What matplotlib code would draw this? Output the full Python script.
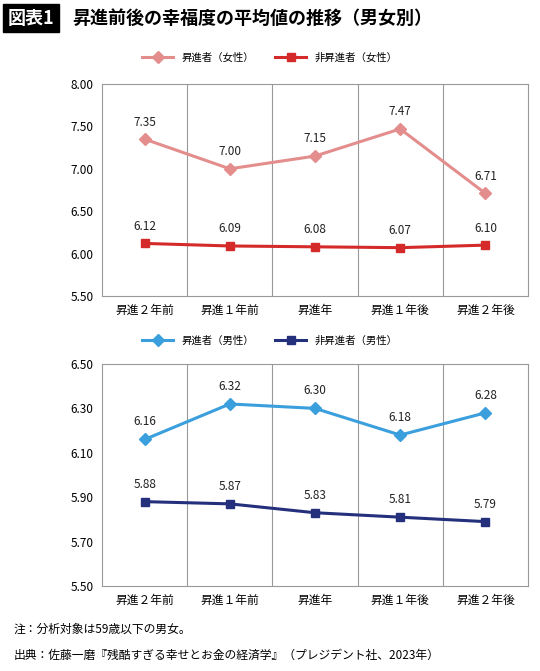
import matplotlib
matplotlib.use("Agg")
import matplotlib.pyplot as plt

plt.rcParams['font.family'] = ['Noto Sans CJK JP', 'DejaVu Sans']

categories = ["昇進２年前", "昇進１年前", "昇進年", "昇進１年後", "昇進２年後"]
f_prom = [7.35, 7.00, 7.15, 7.47, 6.71]
f_non = [6.12, 6.09, 6.08, 6.07, 6.10]
m_prom = [6.16, 6.32, 6.30, 6.18, 6.28]
m_non = [5.88, 5.87, 5.83, 5.81, 5.79]
top_ticks = [5.50, 6.00, 6.50, 7.00, 7.50, 8.00]
bot_ticks = [5.50, 5.70, 5.90, 6.10, 6.30, 6.50]

W, H = 540, 671
fig = plt.figure(figsize=(W/100, H/100), dpi=100)

def ax_rect(l, t, r, b):
    return [l/W, 1-b/H, (r-l)/W, (b-t)/H]

def panel(rect, s1, s2, c1, c2, lab1, lab2, ticks, legy):
    ax = fig.add_axes(ax_rect(*rect))
    x = range(len(categories))
    ax.plot(x, s1, color=c1, marker='D', ms=6, lw=2.2, label=lab1)
    ax.plot(x, s2, color=c2, marker='s', ms=5.5, lw=2.2, label=lab2)
    rng = ticks[-1]-ticks[0]
    for s in (s1, s2):
        for xi, v in zip(x, s):
            ax.text(xi, v+rng*0.05, f"{v:.2f}", ha='center', va='bottom', fontsize=8.5, color='#222')
    ax.set_xlim(-0.5, 4.5)
    ax.set_ylim(ticks[0], ticks[-1])
    ax.set_yticks(ticks)
    ax.set_yticklabels([f"{t:.2f}" for t in ticks], fontsize=8.5)
    ax.set_xticks(list(x))
    ax.set_xticklabels(categories, fontsize=8.5)
    for b in [0.5, 1.5, 2.5, 3.5]:
        ax.axvline(b, color='#999', lw=0.8, zorder=0)
    for s in ax.spines.values():
        s.set_color('#999')
    ax.tick_params(length=0, pad=6)
    ax.legend(loc='center', bbox_to_anchor=(0.5, 1-legy/H), bbox_transform=fig.transFigure,
              ncol=2, frameon=False, fontsize=7.5, handlelength=3, columnspacing=2)
    return ax

panel((102, 84, 528, 296), f_prom, f_non, '#e38d8d', '#d42a2a',
      "昇進者（女性）", "非昇進者（女性）", top_ticks, 58)
panel((102, 364, 528, 586), m_prom, m_non, '#3a9fdc', '#24307c',
      "昇進者（男性）", "非昇進者（男性）", bot_ticks, 341)

fig.text(8/W, 1-18/H, "図表1", fontsize=13, fontweight='bold', color='white', va='center',
         bbox=dict(boxstyle='square,pad=0.25', fc='black', ec='black'))
fig.text(72/W, 1-18/H, "昇進前後の幸福度の平均値の推移（男女別）", fontsize=13, fontweight='bold', va='center')
fig.text(14/W, 1-633/H, "注：分析対象は59歳以下の男女。", fontsize=8.5)
fig.text(14/W, 1-659/H, "出典：佐藤一磨『残酷すぎる幸せとお金の経済学』（プレジデント社、2023年）", fontsize=8.5)

fig.savefig("out.png", dpi=100, facecolor='white')
